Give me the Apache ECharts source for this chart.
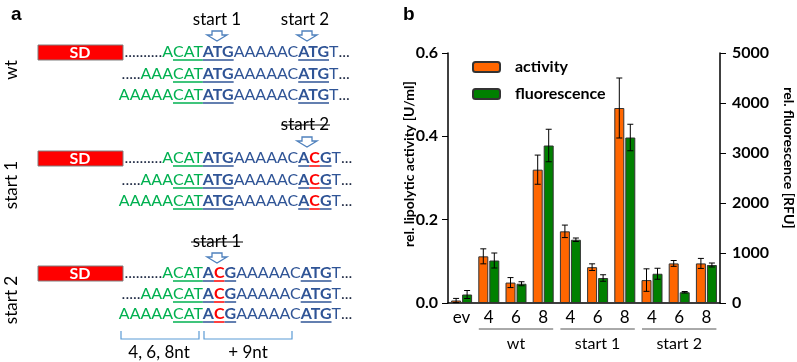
<!DOCTYPE html>
<html>
<head>
<meta charset="utf-8">
<script src="https://cdn.jsdelivr.net/npm/echarts@6/dist/echarts.min.js"></script>
<style>
html, body { margin: 0; padding: 0; background: #fff; }
#main { width: 797px; height: 362px; }
</style>
</head>
<body>
<div id="main"></div>
<script>
// bar chart data (panel b)
var categories = ['ev', '4', '6', '8', '4', '6', '8', '4', '6', '8'];
var groupNames = ['wt', 'start 1', 'start 2'];
var groupFrom = [1, 4, 7];
var groupTo = [3, 6, 9];
var activity = [0.006, 0.112, 0.049, 0.320, 0.172, 0.086, 0.468, 0.055, 0.095, 0.095];
var activityErr = [0.005, 0.018, 0.012, 0.035, 0.015, 0.008, 0.072, 0.027, 0.007, 0.012];
var fluorescence = [170, 850, 385, 3150, 1265, 500, 3310, 585, 215, 760];
var fluorescenceErr = [80, 150, 40, 325, 35, 65, 265, 110, 15, 40];

var FONT = 'Lato';
var GREEN_T = '#00b050', BLUE_T = '#2f5496', DARK = '#1f2a44', RED_T = '#ff0000';
var ARROW = '#4f81bd';
var SEQ_SIZE = 16;

var dom = document.getElementById('main');
var chart = echarts.init(dom);

// ---- panel a: sequence drawing ----
var ctx = document.createElement('canvas').getContext('2d');
function fontStr(bold, size) { return (bold ? 'bold ' : '') + size + 'px ' + FONT; }
function measure(t, bold) { ctx.font = fontStr(bold, SEQ_SIZE); return ctx.measureText(t).width; }

function pushSeg(out, s, x, y) {
    var w = measure(s[0], s[2]);
    out.push({
        type: 'text', x: x, y: y,
        style: { text: s[0], fill: s[1], font: fontStr(s[2], SEQ_SIZE), textAlign: 'left', textVerticalAlign: 'middle' }
    });
    if (s[3]) {
        out.push({ type: 'line', shape: { x1: x, y1: y + 8, x2: x + w, y2: y + 8 }, style: { stroke: s[3], lineWidth: 1.5 } });
    }
}
function seqRow(out, y, prefix, body) {
    var anchor = 173;
    var x = anchor;
    for (var i = prefix.length - 1; i >= 0; i--) {
        x -= measure(prefix[i][0], prefix[i][2]);
        pushSeg(out, prefix[i], x, y);
    }
    x = anchor;
    for (var j = 0; j < body.length; j++) {
        pushSeg(out, body[j], x, y);
        x += measure(body[j][0], body[j][2]);
    }
}
var prefixes = [
    [['..........', DARK, false], ['A', GREEN_T, false]],
    [['.....', DARK, false], ['AAA', GREEN_T, false]],
    [['AAAAA', GREEN_T, false]]
];
var bodyWt = [['CAT', GREEN_T, false, GREEN_T], ['ATG', BLUE_T, true, BLUE_T], ['AAAAAC', BLUE_T, false],
    ['ATG', BLUE_T, true, BLUE_T], ['T', BLUE_T, false], ['...', DARK, false]];
var bodyS1 = [['CAT', GREEN_T, false, GREEN_T], ['ATG', BLUE_T, true, BLUE_T], ['AAAAAC', BLUE_T, false],
    ['A', BLUE_T, true, BLUE_T], ['C', RED_T, true, RED_T], ['G', BLUE_T, true, BLUE_T], ['T', BLUE_T, false], ['...', DARK, false]];
var bodyS2 = [['CAT', GREEN_T, false, GREEN_T], ['A', BLUE_T, true, BLUE_T], ['C', RED_T, true, RED_T], ['G', BLUE_T, true, BLUE_T],
    ['AAAAAC', BLUE_T, false], ['ATG', BLUE_T, true, BLUE_T], ['T', BLUE_T, false], ['...', DARK, false]];

function arrow(cx, y0) {
    return {
        type: 'polygon',
        shape: { points: [[cx - 5, y0], [cx + 5, y0], [cx + 5, y0 + 4], [cx + 10, y0 + 4], [cx, y0 + 10], [cx - 10, y0 + 4], [cx - 5, y0 + 4]] },
        style: { fill: '#fff', stroke: ARROW, lineWidth: 1.3 }
    };
}
function sdBox(y) {
    return [
        { type: 'rect', shape: { x: 38, y: y - 7, width: 85, height: 15 }, style: { fill: '#ff0000', stroke: '#7f7f7f', lineWidth: 1 } },
        { type: 'text', x: 80, y: y + 0.5, style: { text: 'SD', fill: '#fff', font: 'bold 16px ' + FONT, textAlign: 'center', textVerticalAlign: 'middle' } }
    ];
}
function label(txt, x, y, size, extra) {
    var st = { text: txt, fill: '#000', font: size + 'px ' + FONT, textAlign: 'center', textVerticalAlign: 'middle' };
    var el = { type: 'text', x: x, y: y, style: st };
    if (extra) for (var k in extra) el[k] = extra[k];
    return el;
}

var g = [];
g.push({ type: 'text', x: 11, y: 15, style: { text: 'a', fill: '#000', font: 'bold 19px Liberation Sans', textVerticalAlign: 'middle' } });
g.push({ type: 'text', x: 403, y: 15, style: { text: 'b', fill: '#000', font: 'bold 19px Liberation Sans', textVerticalAlign: 'middle' } });

// wt block
g.push(label('start 1', 217, 20, 17), label('start 2', 305, 20, 17));
g.push(arrow(217, 31), arrow(307, 31));
g = g.concat(sdBox(52));
[52, 74, 95].forEach(function (y, i) { seqRow(g, y, prefixes[i], bodyWt); });
g.push(label('wt', 12, 70, 17, { rotation: Math.PI / 2 }));

// start 1 block
g.push(label('start 2', 305, 125, 17));
g.push({ type: 'line', shape: { x1: 281, y1: 125, x2: 330, y2: 125 }, style: { stroke: '#000', lineWidth: 1 } });
g.push(arrow(307, 137));
g = g.concat(sdBox(158));
[158, 180, 201].forEach(function (y, i) { seqRow(g, y, prefixes[i], bodyS1); });
g.push(label('start 1', 12, 185, 17, { rotation: Math.PI / 2 }));

// start 2 block
g.push(label('start 1', 217, 242, 17));
g.push({ type: 'line', shape: { x1: 191, y1: 242, x2: 243, y2: 242 }, style: { stroke: '#000', lineWidth: 1 } });
g.push(arrow(217, 253));
g = g.concat(sdBox(273));
[273, 294, 314].forEach(function (y, i) { seqRow(g, y, prefixes[i], bodyS2); });
g.push(label('start 2', 12, 300, 17, { rotation: Math.PI / 2 }));

// brackets
g.push({ type: 'polyline', shape: { points: [[121, 331], [121, 339], [199, 339], [199, 331]] }, style: { stroke: '#5b9bd5', lineWidth: 1.2, fill: null } });
g.push({ type: 'polyline', shape: { points: [[204, 331], [204, 339], [292, 339], [292, 331]] }, style: { stroke: '#5b9bd5', lineWidth: 1.2, fill: null } });
g.push(label('4, 6, 8nt', 159, 353, 17), label('+ 9nt', 248, 353, 17));

// axis names for panel b
g.push({ type: 'text', x: 409, y: 164, rotation: Math.PI / 2,
    style: { text: 'rel. lipolytic activity [U/ml]', fill: '#000', font: 'bold 14px ' + FONT, textAlign: 'center', textVerticalAlign: 'middle' } });
g.push({ type: 'text', x: 789, y: 158, rotation: -Math.PI / 2,
    style: { text: 'rel. fluorescence [RFU]', fill: '#000', font: 'bold 14px ' + FONT, textAlign: 'center', textVerticalAlign: 'middle' } });

// ---- panel b: bars ----
function errorSeries(name, vals, errs, yIdx, offset) {
    return {
        type: 'custom', name: name, yAxisIndex: yIdx, z: 5, silent: true,
        encode: { x: 0, y: [1, 2] },
        data: vals.map(function (v, i) { return [i, v - errs[i], v + errs[i]]; }),
        renderItem: function (params, api) {
            var lo = api.coord([api.value(0), api.value(1)]);
            var hi = api.coord([api.value(0), api.value(2)]);
            var x = lo[0] + offset, w = 3;
            var st = { stroke: '#000', lineWidth: 1 };
            return {
                type: 'group', children: [
                    { type: 'line', shape: { x1: x, y1: hi[1], x2: x, y2: lo[1] }, style: st },
                    { type: 'line', shape: { x1: x - w, y1: hi[1], x2: x + w, y2: hi[1] }, style: st },
                    { type: 'line', shape: { x1: x - w, y1: lo[1], x2: x + w, y2: lo[1] }, style: st }
                ]
            };
        }
    };
}

var axisFontB = { color: '#000', fontFamily: FONT, fontWeight: 'bold', fontSize: 16 };
var option = {
    animation: false,
    textStyle: { fontFamily: FONT },
    grid: { left: 448, right: 77, top: 53, bottom: 59 },
    legend: {
        data: ['activity', 'fluorescence'],
        orient: 'vertical', left: 467, top: 54,
        itemWidth: 27, itemHeight: 10, itemGap: 11,
        textStyle: { color: '#000', fontFamily: FONT, fontWeight: 'bold', fontSize: 16, padding: [0, 0, 0, 10] }
    },
    xAxis: {
        type: 'category', data: categories,
        axisLine: { lineStyle: { color: '#000', width: 1.5 } },
        axisTick: { show: false },
        axisLabel: { color: '#000', fontFamily: FONT, fontSize: 17, margin: 6 }
    },
    yAxis: [
        {
            type: 'value', min: 0, max: 0.6, interval: 0.2,
            axisLine: { show: true, lineStyle: { color: '#000', width: 1.5 } },
            axisTick: { show: true, length: 6, lineStyle: { color: '#000' } },
            axisLabel: Object.assign({ margin: 10, formatter: function (v) { return v.toFixed(1); } }, axisFontB),
            splitLine: { show: false }
        },
        {
            type: 'value', min: 0, max: 5000, interval: 1000, position: 'right',
            axisLine: { show: true, lineStyle: { color: '#000', width: 1.5 } },
            axisTick: { show: true, length: 6, lineStyle: { color: '#000' } },
            axisLabel: Object.assign({ margin: 12, formatter: function (v) { return String(v); } }, axisFontB),
            splitLine: { show: false }
        }
    ],
    series: [
        { name: 'activity', type: 'bar', yAxisIndex: 0, data: activity, barWidth: 10, barGap: '10%',
          itemStyle: { color: '#ff6600', borderColor: '#333', borderWidth: 1 } },
        { name: 'fluorescence', type: 'bar', yAxisIndex: 1, data: fluorescence, barWidth: 10, barGap: '10%',
          itemStyle: { color: '#008000', borderColor: '#333', borderWidth: 1 } },
        errorSeries('activity sd', activity, activityErr, 0, -5.5),
        errorSeries('fluorescence sd', fluorescence, fluorescenceErr, 1, 5.5)
    ],
    graphic: g
};
chart.setOption(option);

// group labels under the category axis
var extra = [];
for (var k = 0; k < groupNames.length; k++) {
    var x1 = chart.convertToPixel({ xAxisIndex: 0 }, groupFrom[k]) - 10;
    var x2 = chart.convertToPixel({ xAxisIndex: 0 }, groupTo[k]) + 10;
    extra.push({ type: 'line', shape: { x1: x1, y1: 329, x2: x2, y2: 329 }, style: { stroke: '#555', lineWidth: 1 } });
    extra.push({ type: 'text', x: (x1 + x2) / 2, y: 344,
        style: { text: groupNames[k], fill: '#000', font: '16px ' + FONT, textAlign: 'center', textVerticalAlign: 'middle' } });
}
chart.setOption({ graphic: g.concat(extra) });
</script>
</body>
</html>
